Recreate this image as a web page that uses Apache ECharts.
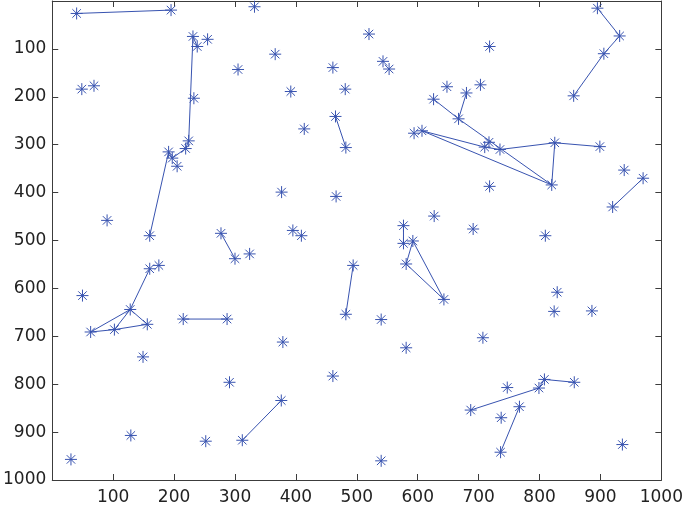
<!DOCTYPE html>
<html>
<head>
<meta charset="utf-8">
<script src="https://cdn.jsdelivr.net/npm/echarts@6/dist/echarts.min.js"></script>
<style>html,body{margin:0;padding:0;background:#fff;}#c{width:686px;height:510px;}</style>
</head>
<body>
<div id="c"></div>
<script>
var pointX = [40,195,332,231,238,255,366,305,48.5,68.5,232.5,391.6,460.7,481,413.7,465,482,224,219,191,197,205,90,160,376.5,466,277,300,324,395,409,520,543,553,718,895,931.5,905.6,856,648,703,680,626,667,607,594,717,710,735,825,899,820,718,939,970,920,627,691,809.5,576.6,576.6,592,160,175,49.6,128,156,102,63,149,215,287,378.6,291,460.7,376,312,252,129,30.7,482,494,581,643,540,581,540,707,829,824,886,808,799,857,747,687,767,737,736,936];
var pointY = [26,19,12,74,95,80,111,143,184,177,203,189,139,184,267,241,306,292,308,315,328,345,458,490,399,408,485,538,528,479,490,69,126,142,95,15,73,110,198,179,175,192,205,246,271,276,295,305,310,296,304,384,387,353,370,430,449,476,490,469,506,501,559,552,615,644,675,686,691,743,664,664,712,796,783,834,917,919,907,957,654,552,549,623,665,724,960,703,608,648,647,790,808,796,807,854,847,870,942,926];
var paths = [
  [[40,26],[195,19]],
  [[238,95],[231,74],[224,292],[219,308],[197,328],[191,315],[160,490]],
  [[277,485],[300,538]],
  [[465,241],[482,306]],
  [[895,15],[931.5,73],[905.6,110],[856,198]],
  [[626,205],[667,246],[820,384]],
  [[680,192],[667,246]],
  [[607,271],[710,305],[735,310],[825,296],[899,304]],
  [[607,271],[820,384],[825,296]],
  [[970,370],[920,430]],
  [[576.6,469],[576.6,506]],
  [[592,501],[581,549],[643,623],[592,501]],
  [[160,559],[128,644],[102,686]],
  [[63,691],[128,644],[156,675]],
  [[63,691],[102,686],[156,675]],
  [[215,664],[287,664]],
  [[312,917],[376,834]],
  [[482,654],[494,552]],
  [[687,854],[799,808],[808,790],[857,796]],
  [[767,847],[736,942]]
];
var xTicks = [0,100,200,300,400,500,600,700,800,900,1000];
var yTicks = [0,100,200,300,400,500,600,700,800,900,1000];

var color = '#3853b0';
var axisColor = '#3c3c3c';
var star = 'path://M0,5L10,5M5,0L5,10M1.46,1.46L8.54,8.54M8.54,1.46L1.46,8.54';

function mkAxis(type, pos, showLabel, inverse) {
  return {
    type: 'value', position: pos, min: xTicks[0], max: xTicks[xTicks.length - 1], interval: 100, inverse: !!inverse,
    axisLine: {show: true, onZero: false, lineStyle: {color: axisColor, width: 1}},
    axisTick: {show: true, inside: true, length: 6, lineStyle: {color: axisColor}},
    axisLabel: {show: showLabel, showMinLabel: false, color: '#222', fontSize: 17,
      fontFamily: 'DejaVu Sans, sans-serif', margin: type === 'x' ? 9 : 6,
      formatter: function (v) { return String(v); }},
    splitLine: {show: false}
  };
}

var series = paths.map(function (p) {
  return {type: 'line', data: p, symbol: 'none', xAxisIndex: 0, yAxisIndex: 0,
    lineStyle: {color: color, width: 1}, animation: false, silent: true, z: 2};
});
series.push({
  type: 'scatter', xAxisIndex: 0, yAxisIndex: 0,
  data: pointX.map(function (x, i) { return [x, pointY[i]]; }),
  symbol: star, symbolSize: 12,
  itemStyle: {color: 'rgba(0,0,0,0)', borderColor: color, borderWidth: 1, opacity: 1},
  animation: false, z: 3
});

var chart = echarts.init(document.getElementById('c'), null, {renderer: 'canvas'});
chart.setOption({
  backgroundColor: '#fff',
  animation: false,
  grid: {left: 48, right: 21, top: 1, bottom: 30, containLabel: false},
  xAxis: [mkAxis('x', 'bottom', true, false), mkAxis('x', 'top', false, false)],
  yAxis: [mkAxis('y', 'left', true, true), mkAxis('y', 'right', false, true)],
  series: series
});
</script>
</body>
</html>
